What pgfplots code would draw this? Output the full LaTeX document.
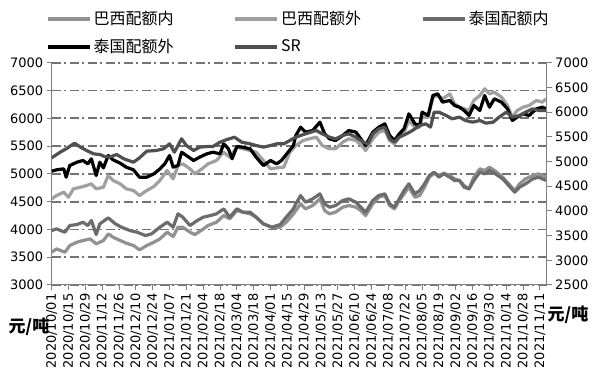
\documentclass[border=0pt]{standalone}
\usepackage{fontspec}
\setmainfont{DejaVu Sans}
\newfontfamily\cjk{Noto Sans CJK SC}
\usepackage{pgfplots}
\pgfplotsset{compat=1.18}
\definecolor{cBRin}{RGB}{145,145,145}
\definecolor{cBRout}{RGB}{160,160,160}
\definecolor{cTHin}{RGB}{108,108,108}
\definecolor{cTHout}{RGB}{0,0,0}
\definecolor{cSR}{RGB}{80,80,80}
\definecolor{gridc}{RGB}{115,115,115}
\definecolor{axisc}{RGB}{128,128,128}
\begin{document}
\begin{tikzpicture}[x=1pt,y=1pt]
\path[use as bounding box] (0,0) rectangle (604,385);
\begin{axis}[
  at={(51.7pt,100pt)}, anchor=south west, scale only axis,
  width=495pt, height=222.3pt,
  xmin=0, xmax=411.6, ymin=3000, ymax=7000,
  axis lines*=left,
  axis line style={-, draw=axisc, line width=1pt},
  ytick={3000,3500,...,7000},
  xtick={0,14,...,406},
  xticklabels={2020/10/01,2020/10/15,2020/10/29,2020/11/12,2020/11/26,2020/12/10,2020/12/24,2021/01/07,2021/01/21,2021/02/04,2021/02/18,2021/03/04,2021/03/18,2021/04/01,2021/04/15,2021/04/29,2021/05/13,2021/05/27,2021/06/10,2021/06/24,2021/07/08,2021/07/22,2021/08/05,2021/08/19,2021/09/02,2021/09/16,2021/09/30,2021/10/14,2021/10/28,2021/11/11},
  xticklabel style={rotate=90, anchor=east, font=\fontsize{13}{15}\selectfont},
  yticklabel style={font=\fontsize{13}{15}\selectfont},
  tick align=outside, major tick length=5pt,
  tick style={draw=axisc, line width=1pt},
  ymajorgrids,
  grid style={draw=gridc, line width=1.8pt, dash pattern=on 9pt off 3.5pt on 2pt off 3.5pt},
  /pgf/number format/assume math mode=true,
  /pgf/number format/1000 sep={},
  legend columns=3,
  legend cell align=left,
  legend style={at={(-0.0176,1.25)}, anchor=north west, draw=none, fill=none,
    font=\cjk\fontsize{16}{18}\selectfont,
    /tikz/every even column/.append style={column sep=58pt}, row sep=9pt},
  legend image code/.code={\draw[#1, line width=3.5pt] (0pt,0pt) -- (42pt,0pt);},
  every axis plot/.append style={line width=3.2pt, line join=round},
]
\addplot[cBRin] coordinates {(0,3590) (4,3650) (11,3590) (15,3710) (21,3770) (26,3800) (32,3830) (37,3740) (43,3800) (47,3920) (51,3860) (57,3800) (62,3752) (68,3710) (73,3632) (79,3710) (85,3770) (90,3830) (96,3950) (101,3872) (105,4040) (109,4040) (115,3950) (119,3908) (125,3992) (130,4070) (137,4130) (143,4250) (148,4190) (154,4340) (159,4310) (165,4280) (170,4220) (176,4100) (183,4040) (190,4040) (195,4130) (201,4280)
(203,4340) (207,4460) (211,4370) (217,4430) (223,4550) (227,4340) (231,4280) (236,4310) (242,4400) (247,4430) (253,4400) (257,4340) (261,4250) (267,4460) (272,4580) (277,4610) (281,4430) (285,4370) (289,4520) (293,4640) (297,4760) (302,4580) (306,4610) (310,4760) (314,4940) (318,5012) (322,4970) (326,5012) (331,4970) (335,4910) (339,4880) (343,4790) (347,4730) (351,4940) (356,5090) (360,5060) (364,5120) (369,5048) (375,4940) (380,4820) (385,4700) (389,4820) (394,4910) (400,4970) (405,5000) (411,4940)};
\addlegendentry{巴西配额内}
\addplot[cBRout] coordinates {(0,4550) (4,4610) (10,4670) (14,4580) (18,4730) (24,4760) (29,4790) (33,4820) (37,4730) (43,4760) (47,4970) (51,4880) (57,4820) (62,4730) (68,4700) (73,4610) (79,4700) (85,4772) (90,4880) (96,5060) (101,4910) (105,5150) (109,5180) (115,5090) (119,5000) (125,5090) (130,5180) (137,5240) (143,5390) (148,5300) (154,5480) (159,5450) (165,5420) (170,5390) (176,5240) (182,5090) (187,5108) (193,5120) (198,5390)
(203,5510) (209,5600) (214,5630) (220,5660) (225,5510) (231,5450) (236,5450) (242,5570) (247,5630) (253,5600) (259,5480) (261,5420) (267,5630) (272,5750) (277,5780) (281,5600) (285,5540) (289,5660) (293,5750) (297,5960) (302,5840) (306,5840) (308,6020) (313,6020) (317,6380) (321,6410) (325,6350) (331,6440) (335,6260) (339,6200) (343,6170) (347,6140) (351,6320) (356,6410) (360,6530) (364,6440) (368,6470) (374,6380) (379,6230) (383,6020) (387,6140) (392,6200) (397,6230) (403,6320) (408,6290) (411,6350)};
\addlegendentry{巴西配额外}
\addplot[cTHin] coordinates {(0,3980) (4,4010) (11,3950) (15,4070) (21,4088) (26,4130) (30,4070) (33,4160) (37,3908) (40,4100) (47,4208) (53,4100) (58,4040) (65,3980) (71,3950) (78,3890) (83,3920) (90,4040) (96,4130) (101,4040) (105,4280) (109,4220) (115,4070) (121,4160) (126,4220) (132,4250) (137,4280) (143,4370) (148,4220) (154,4370) (159,4310) (165,4310) (170,4220) (176,4100) (183,4040) (190,4088) (195,4220) (201,4370)
(203,4460) (207,4610) (211,4490) (217,4550) (223,4640) (227,4460) (231,4400) (236,4430) (242,4520) (247,4550) (253,4490) (257,4400) (261,4310) (267,4520) (272,4610) (277,4640) (281,4460) (285,4400) (289,4550) (293,4700) (297,4820) (302,4640) (306,4700) (310,4820) (314,4970) (318,5030) (322,4940) (326,5000) (331,4940) (335,4880) (339,4880) (343,4760) (347,4730) (351,4880) (356,5030) (360,5000) (364,5060) (369,5000) (375,4910) (380,4790) (385,4670) (389,4760) (394,4820) (400,4910) (405,4940) (411,4880)};
\addlegendentry{泰国配额内}
\addplot[cTHout] coordinates {(0,5048) (4,5072) (10,5090) (12,4940) (15,5150) (21,5210) (26,5240) (30,5180) (33,5270) (37,4970) (40,5210) (43,5108) (47,5330) (51,5252) (57,5192) (62,5120) (68,5072) (73,4940) (79,4940) (85,5000) (90,5090) (94,5180) (98,5330) (101,5120) (105,5150) (108,5390) (112,5330) (118,5240) (123,5300) (129,5360) (134,5390) (140,5360) (143,5540) (147,5450) (150,5270) (154,5492) (159,5480) (165,5450) (170,5300) (176,5150) (182,5240) (187,5180) (191,5240) (195,5348) (201,5510)
(203,5690) (207,5840) (211,5750) (217,5780) (223,5930) (227,5720) (231,5630) (236,5600) (242,5690) (247,5780) (253,5750) (257,5630) (261,5510) (267,5750) (272,5840) (277,5900) (281,5690) (285,5600) (289,5720) (293,5810) (297,6080) (302,5900) (306,5870) (308,6110) (313,6050) (317,6410) (321,6440) (325,6290) (331,6320) (335,6230) (339,6200) (343,6140) (347,6050) (351,6230) (356,6140) (360,6410) (364,6200) (368,6350) (374,6290) (379,6170) (383,5960) (387,6020) (392,6080) (397,6050) (403,6170) (408,6200) (411,6170)};
\addlegendentry{泰国配额外}
\addplot[cSR] coordinates {(0,5288) (7,5390) (12,5450) (19,5552) (24,5480) (29,5420) (35,5360) (40,5348) (44,5312) (48,5300) (54,5348) (60,5270) (68,5210) (73,5288) (79,5408) (87,5420) (93,5450) (98,5540) (102,5390) (108,5630) (112,5510) (118,5420) (123,5480) (129,5492) (134,5492) (140,5570) (145,5612) (152,5660) (158,5570) (165,5540) (170,5510) (176,5480) (182,5510) (187,5540) (193,5540) (198,5600)
(203,5660) (211,5720) (220,5780) (225,5720) (231,5660) (236,5630) (242,5690) (247,5720) (253,5660) (259,5570) (263,5540) (267,5720) (272,5810) (277,5840) (281,5630) (285,5570) (289,5660) (295,5720) (300,5780) (306,5870) (311,5900) (315,5840) (318,6110) (322,6110) (328,6050) (333,5990) (339,6020) (344,5960) (350,5930) (356,5960) (361,5912) (367,5930) (372,6020) (378,6110) (383,6020) (389,6050) (394,6110) (400,6170) (405,6140) (411,6140)};
\addlegendentry{SR}
\end{axis}
\begin{axis}[
  at={(51.7pt,100pt)}, anchor=south west, scale only axis,
  width=495pt, height=222.3pt,
  xmin=0, xmax=411.6, ymin=2500, ymax=7000,
  axis x line=none, axis y line*=right,
  axis line style={-, draw=axisc, line width=1pt},
  ytick={2500,3000,...,7000},
  yticklabel style={font=\fontsize{13}{15}\selectfont},
  tick align=outside, major tick length=5pt,
  tick style={draw=axisc, line width=1pt},
  /pgf/number format/assume math mode=true,
  /pgf/number format/1000 sep={},
]
\addplot[draw=none] coordinates {(0,2500)};
\end{axis}
\node[font=\cjk\bfseries\fontsize{17}{19}\selectfont] at (29,58) {元/吨};
\node[font=\cjk\bfseries\fontsize{17}{19}\selectfont] at (568,70) {元/吨};
\end{tikzpicture}
\end{document}
